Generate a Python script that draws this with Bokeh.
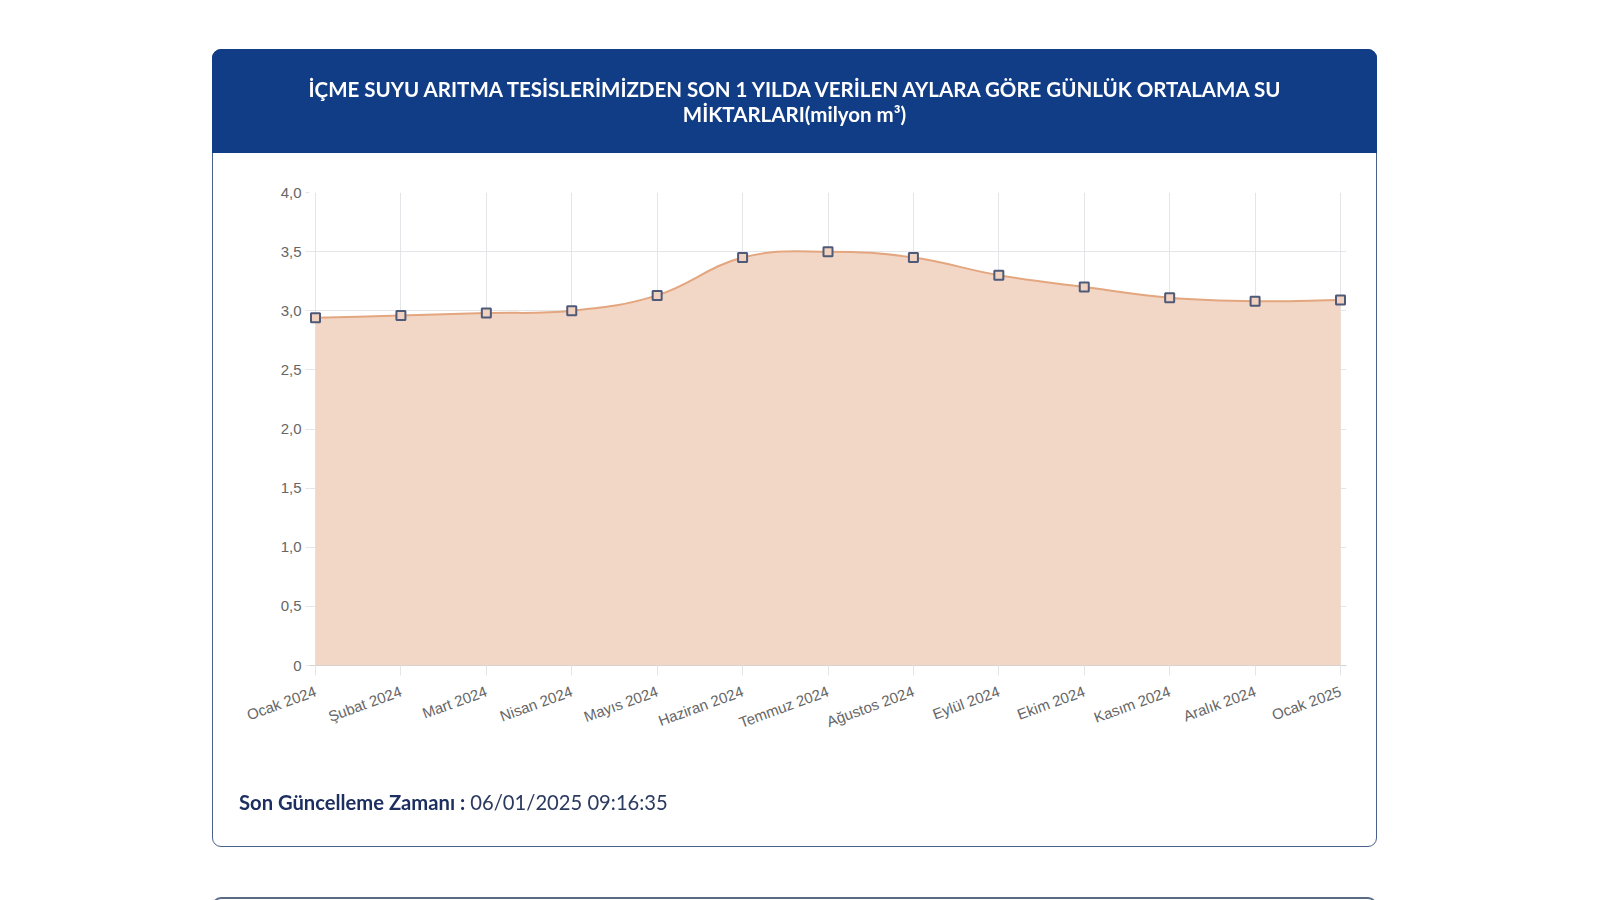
import math
import numpy as np
from bokeh.plotting import figure
from bokeh.models import Range1d, FixedTicker, Div
from bokeh.layouts import column
from bokeh.embed import file_html
from bokeh.resources import INLINE

# ---------------- data ----------------
months = ["Ocak 2024", "Şubat 2024", "Mart 2024", "Nisan 2024", "Mayıs 2024",
          "Haziran 2024", "Temmuz 2024", "Ağustos 2024", "Eylül 2024",
          "Ekim 2024", "Kasım 2024", "Aralık 2024", "Ocak 2025"]
water = [2.94, 2.96, 2.98, 3.00, 3.13, 3.45, 3.50, 3.45, 3.30, 3.20, 3.11, 3.08, 3.09]
y_ticks = [0, 0.5, 1.0, 1.5, 2.0, 2.5, 3.0, 3.5, 4.0]
y_tick_labels = ["0", "0,5", "1,0", "1,5", "2,0", "2,5", "3,0", "3,5", "4,0"]
title_lines = ["İÇME SUYU ARITMA TESİSLERİMİZDEN SON 1 YILDA VERİLEN AYLARA GÖRE GÜNLÜK ORTALAMA SU",
               "MİKTARLARI(milyon m³)"]
footer_label = "Son Güncelleme Zamanı :"
footer_value = "06/01/2025 09:16:35"

# ---------------- layout ----------------
W, H = 1600, 899
FL, FR, FT, FB = 315, 1340, 192, 665
PAD = 6  # px of frame beyond first/last month so the markers are not clipped
GRID = "#e4e5e8"
n = len(months)
sx = (FR - FL) / (n - 1)
sy = (FB - FT) / 4.0

p = figure(width=W, height=H, output_backend="svg", toolbar_location=None,
           x_range=Range1d(-PAD / sx, (n - 1) + PAD / sx), y_range=Range1d(0, 4),
           min_border_left=FL - PAD, min_border_right=W - FR - PAD,
           min_border_top=FT, min_border_bottom=H - FB)
p.background_fill_color = "white"
p.border_fill_color = "white"
p.outline_line_color = None

# ---------------- smooth curve (Chart.js style spline, tension 0.4) ----------------
xs = np.arange(n, dtype=float)
ys = np.array(water, dtype=float)
px, py = xs * sx, ys * sy
cpx_prev, cpy_prev, cpx_next, cpy_next = [], [], [], []
t = 0.4
for i in range(n):
    a = i - 1 if i > 0 else i
    b = i + 1 if i < n - 1 else i
    d01 = math.hypot(px[i] - px[a], py[i] - py[a])
    d12 = math.hypot(px[b] - px[i], py[b] - py[i])
    s01 = d01 / (d01 + d12)
    s12 = d12 / (d01 + d12)
    fa, fb = t * s01, t * s12
    cpx_prev.append((px[i] - fa * (px[b] - px[a])) / sx)
    cpy_prev.append((py[i] - fa * (py[b] - py[a])) / sy)
    cpx_next.append((px[i] + fb * (px[b] - px[a])) / sx)
    cpy_next.append((py[i] + fb * (py[b] - py[a])) / sy)

x0, y0 = xs[:-1], ys[:-1]
x1, y1 = xs[1:], ys[1:]
cx0, cy0 = np.array(cpx_next[:-1]), np.array(cpy_next[:-1])
cx1, cy1 = np.array(cpx_prev[1:]), np.array(cpy_prev[1:])

fx, fy = [], []
tt = np.linspace(0, 1, 30)
for i in range(n - 1):
    u = tt if i == 0 else tt[1:]
    bx = ((1 - u) ** 3) * x0[i] + 3 * ((1 - u) ** 2) * u * cx0[i] + 3 * (1 - u) * u ** 2 * cx1[i] + u ** 3 * x1[i]
    by = ((1 - u) ** 3) * y0[i] + 3 * ((1 - u) ** 2) * u * cy0[i] + 3 * (1 - u) * u ** 2 * cy1[i] + u ** 3 * y1[i]
    fx.extend(bx.tolist())
    fy.extend(by.tolist())

p.varea(x=fx, y1=[0] * len(fx), y2=fy, fill_color="#f3d7c6", fill_alpha=1.0)
p.bezier(x0=x0, y0=y0, x1=x1, y1=y1, cx0=cx0, cy0=cy0, cx1=cx1, cy1=cy1,
         line_color="#e3a67f", line_width=2)
p.scatter(xs, ys, marker="square", size=9, fill_color="#f1d2c0",
          line_color="#4e5a77", line_width=2)

# ---------------- axes / grid ----------------
p.xaxis.ticker = FixedTicker(ticks=list(range(n)))
p.xaxis.major_label_overrides = {i: m for i, m in enumerate(months)}
p.xaxis.major_label_orientation = 0.35
p.yaxis.ticker = FixedTicker(ticks=y_ticks)
p.yaxis.major_label_overrides = {v: s for v, s in zip(y_ticks, y_tick_labels)}
for ax in (p.xaxis[0], p.yaxis[0]):
    ax.major_label_text_font = "Liberation Sans"
    ax.major_label_text_font_size = "15px"
    ax.major_label_text_color = "#666666"
    ax.major_tick_in = 0
    ax.major_tick_line_color = GRID
    ax.minor_tick_line_color = None
p.yaxis.axis_line_color = None
p.yaxis.major_tick_out = 10 - PAD
p.yaxis.major_label_standoff = 4
p.xaxis.axis_line_color = "#d8d2ce"
p.xaxis.major_tick_out = 10
p.xaxis.major_label_standoff = 15
p.xgrid.ticker = FixedTicker(ticks=list(range(n)))
p.ygrid.ticker = FixedTicker(ticks=y_ticks)
p.xgrid.grid_line_color = GRID
p.ygrid.grid_line_color = GRID

# ---------------- card decorations (fixed-position HTML) ----------------
CARD_L, CARD_R, CARD_T, CARD_B = 212, 1377, 49, 847
HEAD_B = 153
CW = CARD_R - CARD_L
font = "font-family:Lato,'Open Sans',sans-serif;"
html = (
    f'<div style="position:fixed;left:{CARD_L}px;top:{CARD_T}px;width:{CW}px;height:{CARD_B - CARD_T}px;'
    f'border:1.5px solid #48608a;border-radius:9px;box-sizing:border-box;pointer-events:none;"></div>'
    f'<div style="position:fixed;left:{CARD_L}px;top:{CARD_T}px;width:{CW}px;height:{HEAD_B - CARD_T}px;'
    f'background:#113c86;border-radius:9px 9px 0 0;"></div>'
    f'<div style="position:fixed;left:{CARD_L}px;top:76px;width:{CW}px;height:26px;line-height:26px;'
    f'text-align:center;color:white;font-weight:bold;font-size:20.5px;{font}white-space:nowrap;">{title_lines[0]}</div>'
    f'<div style="position:fixed;left:{CARD_L}px;top:101px;width:{CW}px;height:26px;line-height:26px;'
    f'text-align:center;color:white;font-weight:bold;font-size:20.5px;{font}white-space:nowrap;">{title_lines[1]}</div>'
    f'<div style="position:fixed;left:239px;top:789px;height:26px;line-height:26px;font-size:20.2px;{font}'
    f'white-space:nowrap;color:#2b3a5f;"><span style="font-weight:bold;color:#1c2f60;">{footer_label}</span> {footer_value}</div>'
    f'<div style="position:fixed;left:{CARD_L}px;top:897px;width:{CW}px;height:40px;'
    f'border:2px solid #5a6b86;border-radius:9px;box-sizing:border-box;"></div>'
)
deco = Div(text=html, width=W, height=1)

layout = column(p, deco)
open("out.html", "w").write(file_html(layout, INLINE))
